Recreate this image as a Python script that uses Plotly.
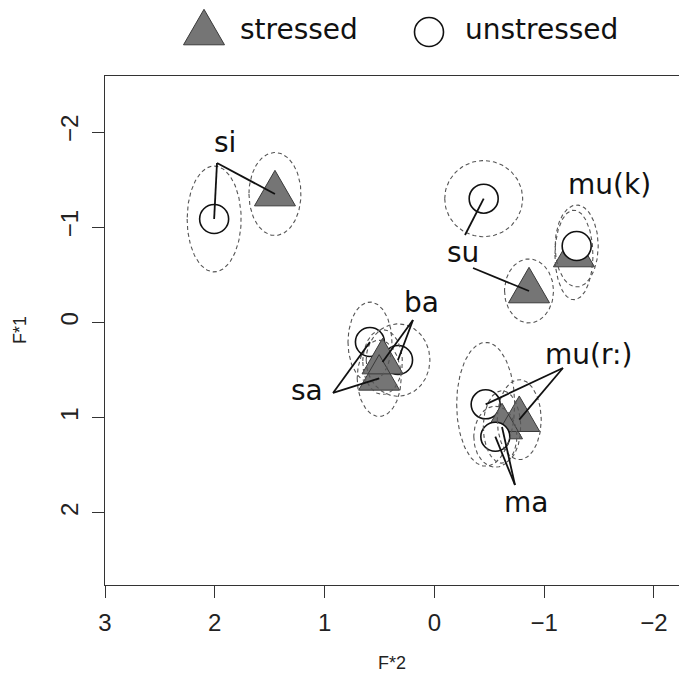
import numpy as np
import plotly.graph_objects as go

# ---------------- data ----------------
words = ["si", "su", "mu(k)", "sa", "ba", "mu(r:)", "ma"]

# stressed (triangles): F*2 (x), F*1 (y)
stressed_x = [1.452, -0.862, -1.271, 0.503, 0.472, -0.773, -0.616]
stressed_y = [-1.349, -0.331, -0.709, 0.586, 0.415, 1.020, 1.097]
# unstressed (circles)
unstressed_x = [2.006, -0.449, -1.296, 0.587, 0.331, -0.467, -0.555]
unstressed_y = [-1.087, -1.300, -0.803, 0.205, 0.394, 0.859, 1.199]

# ellipse half-widths (F*2) and half-heights (F*1)
stressed_rx = [0.237, 0.223, 0.173, 0.20, 0.18, 0.20, 0.17]
stressed_ry = [0.436, 0.336, 0.47, 0.40, 0.34, 0.42, 0.38]
unstressed_rx = [0.246, 0.355, 0.196, 0.20, 0.29, 0.264, 0.196]
unstressed_ry = [0.556, 0.40, 0.43, 0.42, 0.38, 0.65, 0.32]

# word labels
label_words = ["si", "su", "mu(k)", "ba", "sa", "mu(r:)", "ma"]
label_x = [1.907, -0.265, -1.599, 0.118, 1.156, -1.408, -0.834]
label_y = [-1.895, -0.740, -1.454, -0.205, 0.719, 0.331, 1.885]

# connector start points (None = no connector), per word in `words` order
conn_s_x = [1.980, -0.352, None, 0.923, 0.195, -1.171, -0.734]
conn_s_y = [-1.675, -0.572, None, 0.740, -0.026, 0.478, 1.706]
conn_u_x = [1.980, -0.279, None, 0.923, 0.195, -1.171, -0.734]
conn_u_y = [-1.675, -0.919, None, 0.740, -0.026, 0.478, 1.706]

x_ticks = [3, 2, 1, 0, -1, -2]
x_ticktext = ["3", "2", "1", "0", "\u22121", "\u22122"]
y_ticks = [-2, -1, 0, 1, 2]
y_ticktext = ["\u22122", "\u22121", "0", "1", "2"]

x_range = [3.0, -2.228]
y_range = [2.756, -2.588]

# ---------------- layout geometry ----------------
W, H = 679, 674
plot_left, plot_right, plot_top, plot_bottom = 105, 679, 76, 585
px_per_x = (plot_right - plot_left) / abs(x_range[1] - x_range[0])
px_per_y = (plot_bottom - plot_top) / abs(y_range[1] - y_range[0])

TRI_W = 41.0  # triangle width in px
TRI_H = TRI_W * np.sqrt(3) / 2

fig = go.Figure()


def circle_trace(idx):
    return go.Scatter(
        x=[unstressed_x[i] for i in idx], y=[unstressed_y[i] for i in idx],
        mode="markers", showlegend=False, hoverinfo="skip",
        marker=dict(symbol="circle", size=29, color="white",
                    line=dict(color="#111111", width=1.6)),
    )


# circles behind triangles
fig.add_trace(circle_trace([0, 1, 3, 4, 5]))

# triangles (equilateral, centroid at the point)
tx, ty = [], []
for i in [0, 1, 2, 3, 4, 5, 6]:
    cx, cy = stressed_x[i], stressed_y[i]
    hw = TRI_W / 2 / px_per_x
    up = (2 * TRI_H / 3) / px_per_y
    dn = (TRI_H / 3) / px_per_y
    tx += [cx - hw, cx + hw, cx, cx - hw, None]
    ty += [cy + dn, cy + dn, cy - up, cy + dn, None]
fig.add_trace(go.Scatter(
    x=tx, y=ty, mode="lines", fill="toself", fillcolor="#757575",
    line=dict(color="#3a3a3a", width=1), showlegend=False, hoverinfo="skip"))

# circles in front of triangles
fig.add_trace(circle_trace([2, 6]))

# ellipses
ex, ey = [], []
t = np.linspace(0, 2 * np.pi, 120)
for xs, ys, rxs, rys in [(stressed_x, stressed_y, stressed_rx, stressed_ry),
                         (unstressed_x, unstressed_y, unstressed_rx, unstressed_ry)]:
    for cx, cy, rx, ry in zip(xs, ys, rxs, rys):
        ex += list(cx + rx * np.cos(t)) + [None]
        ey += list(cy + ry * np.sin(t)) + [None]
fig.add_trace(go.Scatter(
    x=ex, y=ey, mode="lines", showlegend=False, hoverinfo="skip",
    line=dict(color="#555555", width=1.1, dash="4px,3px")))

# connector lines
lx, ly = [], []
for sx, sy, px, py in [(conn_s_x, conn_s_y, stressed_x, stressed_y),
                       (conn_u_x, conn_u_y, unstressed_x, unstressed_y)]:
    for i in range(len(words)):
        if sx[i] is None:
            continue
        lx += [sx[i], px[i], None]
        ly += [sy[i], py[i], None]
fig.add_trace(go.Scatter(
    x=lx, y=ly, mode="lines", showlegend=False, hoverinfo="skip",
    line=dict(color="#111111", width=1.8)))

annotations = []
for w, x, y in zip(label_words, label_x, label_y):
    annotations.append(dict(x=x, y=y, xref="x", yref="y", text=w, showarrow=False,
                            font=dict(family="DejaVu Sans", size=28, color="#111111"),
                            xanchor="center", yanchor="middle"))

# axis titles
annotations.append(dict(x=392 / W, y=1 - 663 / H, xref="paper", yref="paper", text="F*2",
                        showarrow=False, font=dict(family="Liberation Sans", size=18, color="#222222"),
                        xanchor="center", yanchor="middle"))
annotations.append(dict(x=20 / W, y=1 - 330 / H, xref="paper", yref="paper", text="F*1",
                        showarrow=False, textangle=-90,
                        font=dict(family="Liberation Sans", size=18, color="#222222"),
                        xanchor="center", yanchor="middle"))

# legend (manual, large symbols)
annotations.append(dict(x=238 / W, y=1 - 30 / H, xref="paper", yref="paper", text="stressed",
                        showarrow=False, font=dict(family="DejaVu Sans", size=28, color="#111111"),
                        xanchor="left", yanchor="middle"))
annotations.append(dict(x=463 / W, y=1 - 30 / H, xref="paper", yref="paper", text="unstressed",
                        showarrow=False, font=dict(family="DejaVu Sans", size=28, color="#111111"),
                        xanchor="left", yanchor="middle"))

shapes = [
    dict(type="path", xref="paper", yref="paper", xsizemode="pixel", ysizemode="pixel",
         xanchor=204 / W, yanchor=1 - 33 / H,
         path="M %.1f,%.1f L %.1f,%.1f L 0,%.1f Z" % (-TRI_W / 2, -TRI_H / 3, TRI_W / 2, -TRI_H / 3, 2 * TRI_H / 3),
         fillcolor="#757575", line=dict(color="#3a3a3a", width=1)),
    dict(type="circle", xref="paper", yref="paper", xsizemode="pixel", ysizemode="pixel",
         xanchor=429 / W, yanchor=1 - 32 / H, x0=-14.5, x1=14.5, y0=-14.5, y1=14.5,
         fillcolor="white", line=dict(color="#111111", width=1.6)),
]

axis_common = dict(showgrid=False, zeroline=False, showline=True, linecolor="#333333",
                   linewidth=1.3, ticks="outside", ticklen=12, tickwidth=1.3,
                   tickcolor="#333333", automargin=False,
                   tickfont=dict(family="Liberation Sans", size=24, color="#222222"))

fig.update_layout(
    width=W, height=H, margin=dict(l=0, r=0, t=0, b=0, pad=0, autoexpand=False),
    paper_bgcolor="white", plot_bgcolor="white",
    showlegend=False,
    xaxis=dict(domain=[plot_left / W, plot_right / W], range=x_range,
               tickvals=x_ticks, ticktext=x_ticktext, mirror=True,
               ticklabelstandoff=4, **axis_common),
    yaxis=dict(domain=[1 - plot_bottom / H, 1 - plot_top / H], range=y_range,
               tickvals=y_ticks, ticktext=y_ticktext, tickangle=-90, mirror=False,
               ticklabelstandoff=4, **axis_common),
    annotations=annotations, shapes=shapes,
)

fig.write_html("out.html", config={"displayModeBar": False},
               post_script="document.body.style.margin='0';document.body.style.overflow='hidden';")
